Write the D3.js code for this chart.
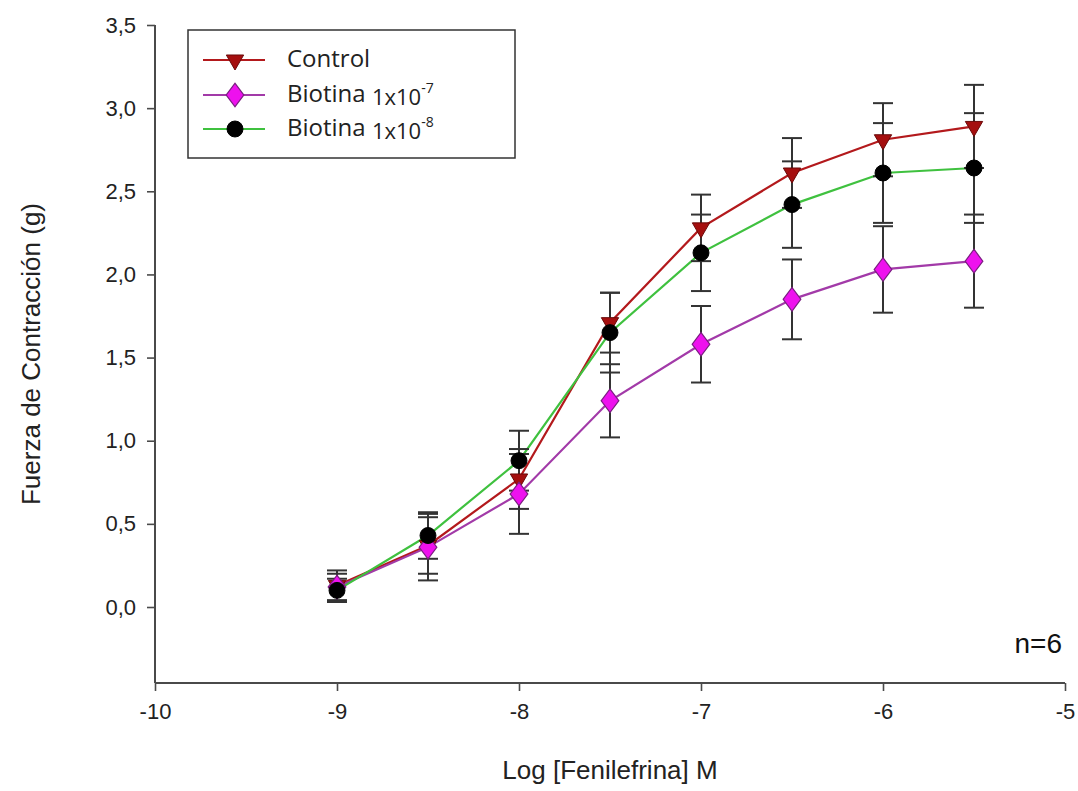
<!DOCTYPE html>
<html>
<head>
<meta charset="utf-8">
<script src="https://cdn.jsdelivr.net/npm/d3@7"></script>
<style>
  html, body { margin: 0; padding: 0; background: #fff; }
  svg { display: block; }
</style>
</head>
<body>
<svg id="chart" width="1078" height="791"></svg>
<script>
// ---- data ----
const logConc = [-9, -8.5, -8, -7.5, -7, -6.5, -6, -5.5];
const control = [0.13, 0.37, 0.77, 1.71, 2.28, 2.61, 2.81, 2.89];
const controlErr = [0.09, 0.17, 0.18, 0.18, 0.20, 0.21, 0.22, 0.25];
const biotina7 = [0.12, 0.36, 0.68, 1.24, 1.58, 1.85, 2.03, 2.08];
const biotina7Err = [0.08, 0.20, 0.24, 0.22, 0.23, 0.24, 0.26, 0.28];
const biotina8 = [0.10, 0.43, 0.88, 1.65, 2.13, 2.42, 2.61, 2.64];
const biotina8Err = [0.07, 0.14, 0.18, 0.24, 0.23, 0.26, 0.30, 0.33];
const xTicks = [-10, -9, -8, -7, -6, -5];
const yTicks = [0, 0.5, 1, 1.5, 2, 2.5, 3, 3.5];
const seriesNames = ["Control", "Biotina ", "Biotina "];
const seriesSup = ["", "-7", "-8"];

const svg = d3.select("#chart");
const x = d3.scaleLinear().domain([-10, -5]).range([155, 1065]);
const y = d3.scaleLinear().domain([-0.457, 3.5]).range([683, 25]);

const series = [
  { name: seriesNames[0], sup: seriesSup[0], vals: control, err: controlErr, line: "#b3191c", fill: "#a50f0f", stroke: "#6a0a0a", shape: d3.symbolTriangle, size: 130, rot: 180 },
  { name: seriesNames[1], sup: seriesSup[1], vals: biotina7, err: biotina7Err, line: "#a23aa8", fill: "#ee11ee", stroke: "#7a1f80", shape: d3.symbolDiamond, size: 160, rot: 0, sx: 1.3 },
  { name: seriesNames[2], sup: seriesSup[2], vals: biotina8, err: biotina8Err, line: "#3fc13f", fill: "#000", stroke: "#000", shape: d3.symbolCircle, size: 200, rot: 0 }
];

const font = "'Liberation Sans', Arial, sans-serif";
// axes
const axisColor = "#4a4a4a";
const gx = svg.append("g").attr("transform", "translate(0,683)")
  .call(d3.axisBottom(x).tickValues(xTicks).tickSize(8).tickPadding(12).tickFormat(d => String(d)));
const gy = svg.append("g").attr("transform", "translate(155,0)")
  .call(d3.axisLeft(y).tickValues(yTicks).tickSize(8).tickPadding(11).tickFormat(d => d.toFixed(1).replace(".", ",")));
[gx, gy].forEach(g => {
  g.select(".domain").attr("stroke", axisColor).attr("stroke-width", 2);
  g.selectAll(".tick line").attr("stroke", axisColor).attr("stroke-width", 1.6);
  g.selectAll(".tick text").attr("fill", "#222").style("font-family", font).style("font-size", "22px");
});
gy.select(".domain").attr("d", `M0,${y(3.5)}V683`);
gx.select(".domain").attr("d", `M155,0H1065`);

// axis titles
svg.append("text").attr("x", 610).attr("y", 779).attr("text-anchor", "middle")
  .style("font-family", font).style("font-size", "26px").attr("fill", "#222")
  .text("Log [Fenilefrina] M");
svg.append("text").attr("transform", "translate(40,354) rotate(-90)").attr("text-anchor", "middle")
  .style("font-family", font).style("font-size", "26px").attr("fill", "#222")
  .text("Fuerza de Contracción (g)");
svg.append("text").attr("x", 1062).attr("y", 653).attr("text-anchor", "end")
  .style("font-family", font).style("font-size", "28px").attr("fill", "#111")
  .text("n=6");

// lines
const lineGen = d3.line().x(d => x(d[0])).y(d => y(d[1]));
series.forEach(s => {
  svg.append("path").datum(logConc.map((c, i) => [c, s.vals[i]]))
    .attr("d", lineGen).attr("fill", "none").attr("stroke", s.line).attr("stroke-width", 2.2);
});

// error bars
const cap = 10;
series.forEach(s => {
  const g = svg.append("g").attr("stroke", "#333").attr("stroke-width", 2);
  logConc.forEach((c, i) => {
    const cx = x(c), top = y(s.vals[i] + s.err[i]), bot = y(s.vals[i] - s.err[i]);
    g.append("line").attr("x1", cx).attr("x2", cx).attr("y1", top).attr("y2", bot);
    g.append("line").attr("x1", cx - cap).attr("x2", cx + cap).attr("y1", top).attr("y2", top);
    g.append("line").attr("x1", cx - cap).attr("x2", cx + cap).attr("y1", bot).attr("y2", bot);
  });
});

// markers
function marker(g, s, cx, cy) {
  g.append("path").attr("d", d3.symbol().type(s.shape).size(s.size)())
    .attr("transform", `translate(${cx},${cy}) rotate(${s.rot}) scale(${s.sx || 1},1)`)
    .attr("fill", s.fill).attr("stroke", s.stroke).attr("stroke-width", 1);
}
series.forEach(s => {
  const g = svg.append("g");
  logConc.forEach((c, i) => marker(g, s, x(c), y(s.vals[i])));
});

// legend
const lg = svg.append("g");
lg.append("rect").attr("x", 188).attr("y", 30).attr("width", 327).attr("height", 128)
  .attr("fill", "#fff").attr("stroke", "#333").attr("stroke-width", 1.5);
const rowY = [60, 95, 129];
series.forEach((s, i) => {
  lg.append("line").attr("x1", 203).attr("x2", 265).attr("y1", rowY[i]).attr("y2", rowY[i])
    .attr("stroke", s.line).attr("stroke-width", 2.2);
  marker(lg, s, 235, rowY[i]);
  const t = lg.append("text").attr("x", 287).attr("y", rowY[i] + 7)
    .style("font-family", "'Open Sans', 'Noto Sans', sans-serif").style("font-size", "24px").attr("fill", "#222");
  t.append("tspan").text(s.name);
  if (s.sup) {
    t.append("tspan").attr("dy", 3).style("font-size", "22px").text("1x10");
    t.append("tspan").attr("dy", -12).style("font-size", "14px").text(s.sup);
  }
});
</script>
</body>
</html>
